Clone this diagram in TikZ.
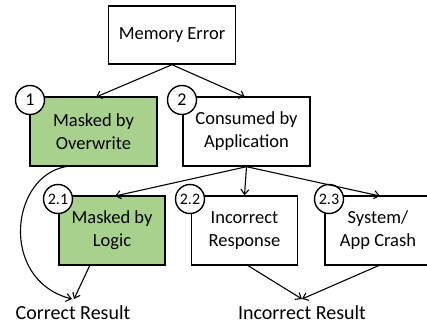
\documentclass[tikz,border=0pt]{standalone}
\usepackage{fontspec}
\setmainfont{Carlito}
\usetikzlibrary{arrows.meta}
\definecolor{maskgreen}{RGB}{169,209,142}
\begin{document}
\begin{tikzpicture}[x=1pt,y=-1pt,
  box/.style={draw,line width=1.4pt,minimum width=127pt,minimum height=69pt,align=center,font=\fontsize{18.5}{23}\selectfont,inner sep=2pt},
  sbox/.style={box,minimum width=106pt},
  num/.style={draw,circle,fill=white,line width=1.4pt,minimum size=29pt,inner sep=0pt,font=\fontsize{18}{20}\selectfont},
  arr/.style={-{Straight Barb[length=5pt,width=8pt]},line width=1.1pt},
  res/.style={font=\fontsize{20}{24}\selectfont}]
\useasboundingbox (0,0) rectangle (427,326);
\node[box,minimum height=58pt] (me) at (172,35) {Memory Error};
\node[box,fill=maskgreen] (mo) at (93.5,131.5) {Masked by\\Overwrite};
\node[box] (ca) at (246.5,131.5) {Consumed by\\Application};
\node[num] (c1) at (30,100) {1};
\node[num] (c2) at (182,100) {2};
\node[sbox,fill=maskgreen] (ml) at (112,230.5) {Masked by\\Logic};
\node[sbox] (ir) at (244.5,230.5) {Incorrect\\Response};
\node[sbox] (sc) at (378,230.5) {System/\\App Crash};
\node[num,font=\fontsize{16}{18}\selectfont] (c21) at (58,199) {2.1};
\node[num,font=\fontsize{16}{18}\selectfont] (c22) at (190,199) {2.2};
\node[num,font=\fontsize{16}{18}\selectfont] (c23) at (329,199) {2.3};
\node[res] (cr) at (73,313) {Correct Result};
\node[res] (inr) at (302,313) {Incorrect Result};
\coordinate (meb) at (me.south);
\draw[arr] (meb) -- (96,97);
\draw[arr] (meb) -- (245,97);
\coordinate (cab) at (ca.south);
\draw[arr] (cab) -- (115,196);
\draw[arr] (cab) -- (ir.north);
\draw[arr] (cab) -- (380,196);
\draw[arr] (70,166) .. controls (10,172) and (-2,280) .. (72,299);
\draw[arr] (90,265) -- (74,299);
\draw[arr] (247,265) -- (302,299);
\draw[arr] (380,265) -- (302,299);
\end{tikzpicture}
\end{document}
